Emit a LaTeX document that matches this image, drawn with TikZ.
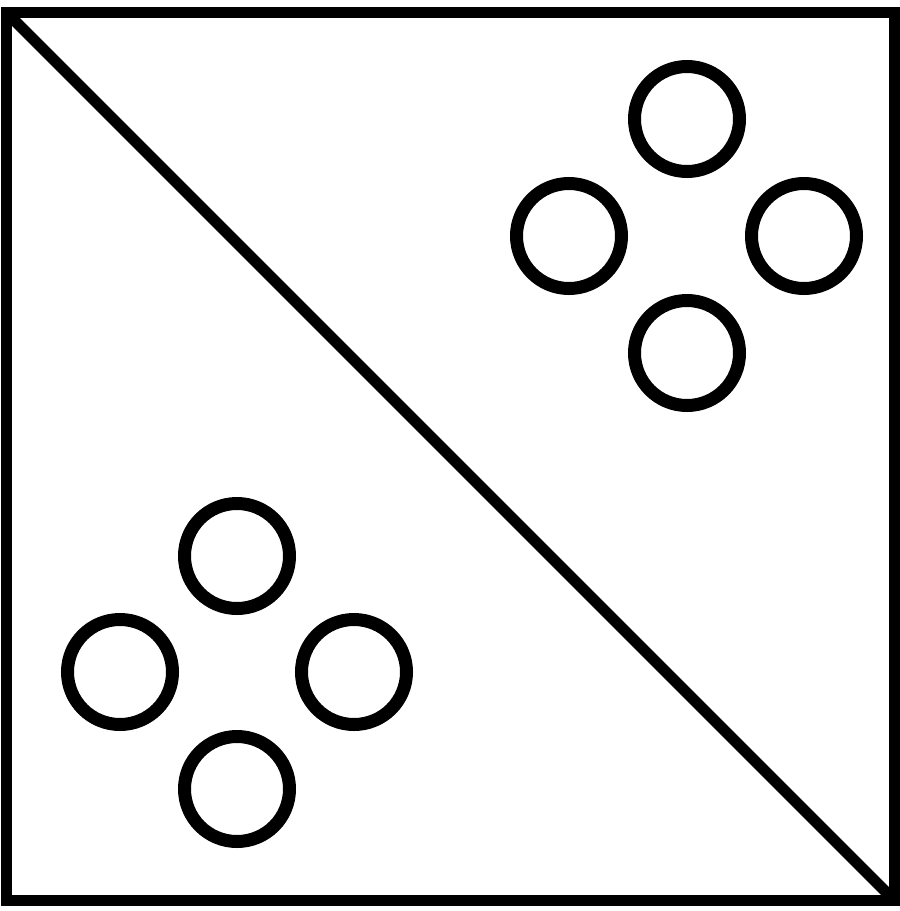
\documentclass[tikz,border=0pt]{standalone}
\begin{document}
\begin{tikzpicture}[x=1pt,y=-1pt,
  ring/.style={draw=black,line width=13pt,circle,inner sep=0pt,minimum size=105pt},
  frame/.style={draw=black,line width=11pt},
  diag/.style={draw=black,line width=11pt}]
\useasboundingbox (0,0) rectangle (900,911);
\coordinate (tl) at (6,12);
\coordinate (br) at (894,900);
\draw[frame] (tl) rectangle (br);
\draw[diag] (tl) -- (br);
% top-right group
\node[ring] (a1) at (687,119) {};
\node[ring] (a2) at (569,236) {};
\node[ring] (a3) at (804,236) {};
\node[ring] (a4) at (687,353) {};
% bottom-left group
\node[ring] (b1) at (237,556) {};
\node[ring] (b2) at (120,672) {};
\node[ring] (b3) at (354,672) {};
\node[ring] (b4) at (237,789) {};
\end{tikzpicture}
\end{document}
